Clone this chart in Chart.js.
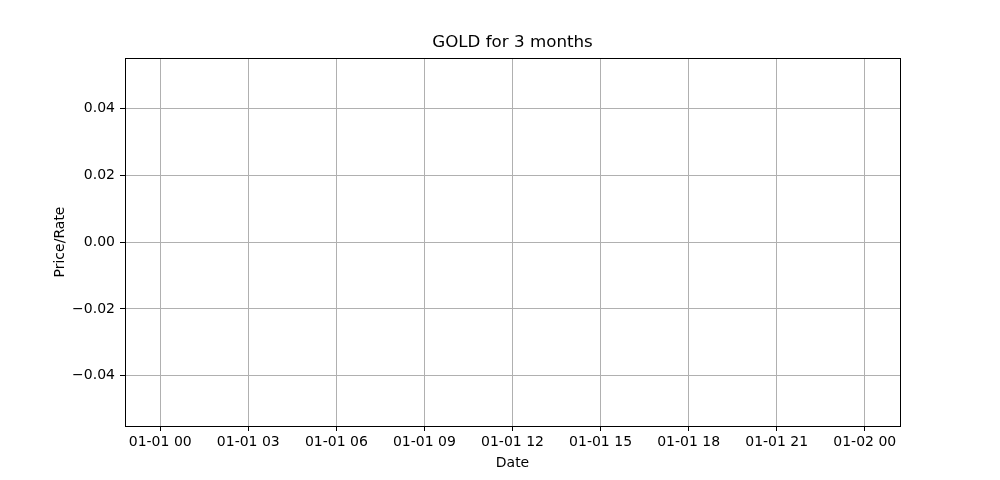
<!DOCTYPE html>
<html>
<head>
<meta charset="utf-8">
<script src="https://cdn.jsdelivr.net/npm/chart.js@4"></script>
<style>
  html, body { margin: 0; padding: 0; background: #fff; }
  #wrap { width: 1000px; height: 480px; }
</style>
</head>
<body>
<div id="wrap"><canvas id="goldChart" width="1000" height="480"></canvas></div>
<script>
// Data (the reference plot has no data points)
const dates = [];
const goldPrices = [];

// Axis ticks
const xTickHours = [0, 3, 6, 9, 12, 15, 18, 21, 24];
const xTickLabels = ["01-01 00", "01-01 03", "01-01 06", "01-01 09", "01-01 12", "01-01 15", "01-01 18", "01-01 21", "01-02 00"];
const yTickValues = [-0.04, -0.02, 0, 0.02, 0.04];
const chartTitle = "GOLD for 3 months";

Chart.defaults.font.family = "'DejaVu Sans', sans-serif";
Chart.defaults.font.size = 14;
Chart.defaults.color = "#000";

// Black frame around the plot area, title centred over the plot area
const frame = {
  id: "frame",
  afterDraw(chart) {
    const { ctx, chartArea: a } = chart;
    ctx.save();
    ctx.strokeStyle = "#000";
    ctx.lineWidth = 1;
    ctx.strokeRect(Math.round(a.left) + 0.5, Math.round(a.top) + 0.5,
      Math.round(a.right - a.left), Math.round(a.bottom - a.top));
    ctx.fillStyle = "#000";
    ctx.font = "16.7px 'DejaVu Sans', sans-serif";
    ctx.textAlign = "center";
    ctx.textBaseline = "middle";
    ctx.fillText(chartTitle, (a.left + a.right) / 2, a.top - 15);
    ctx.restore();
  },
};

const ctx = document.getElementById("goldChart").getContext("2d");
const chart = new Chart(ctx, {
  type: "line",
  data: {
    datasets: [
      {
        label: "GOLD",
        data: dates.map((d, i) => ({ x: d, y: goldPrices[i] })),
        borderColor: "#1f77b4",
        pointRadius: 0,
      },
    ],
  },
  options: {
    responsive: false,
    animation: false,
    layout: { padding: { left: 0, right: 100, top: 58, bottom: 0 } },
    plugins: {
      legend: { display: false },
      tooltip: { enabled: false },
      title: { display: false },
    },
    scales: {
      x: {
        type: "linear",
        min: -1.2,
        max: 25.2,
        afterBuildTicks: (scale) => {
          scale.ticks = xTickHours.map((v) => ({ value: v }));
        },
        afterFit: (scale) => {
          scale.height = 54;
        },
        ticks: {
          padding: 3,
          maxRotation: 0,
          autoSkip: false,
          callback: (value) => xTickLabels[xTickHours.indexOf(value)],
        },
        grid: { color: "#b0b0b0", lineWidth: 1, tickColor: "#000", tickLength: 5 },
        border: { display: false },
        title: { display: true, text: "Date", padding: { top: 0, bottom: 8 } },
      },
      y: {
        min: -0.055,
        max: 0.055,
        afterBuildTicks: (scale) => {
          scale.ticks = yTickValues.map((v) => ({ value: v }));
        },
        afterFit: (scale) => {
          scale.width = 125;
        },
        ticks: {
          padding: 5,
          callback: (value) => value.toFixed(2).replace("-", "\u2212"),
        },
        grid: { color: "#b0b0b0", lineWidth: 1, tickColor: "#000", tickLength: 5 },
        border: { display: false },
        title: { display: true, text: "Price/Rate", padding: { top: 52, bottom: 0 } },
      },
    },
  },
  plugins: [frame],
});
</script>
</body>
</html>
